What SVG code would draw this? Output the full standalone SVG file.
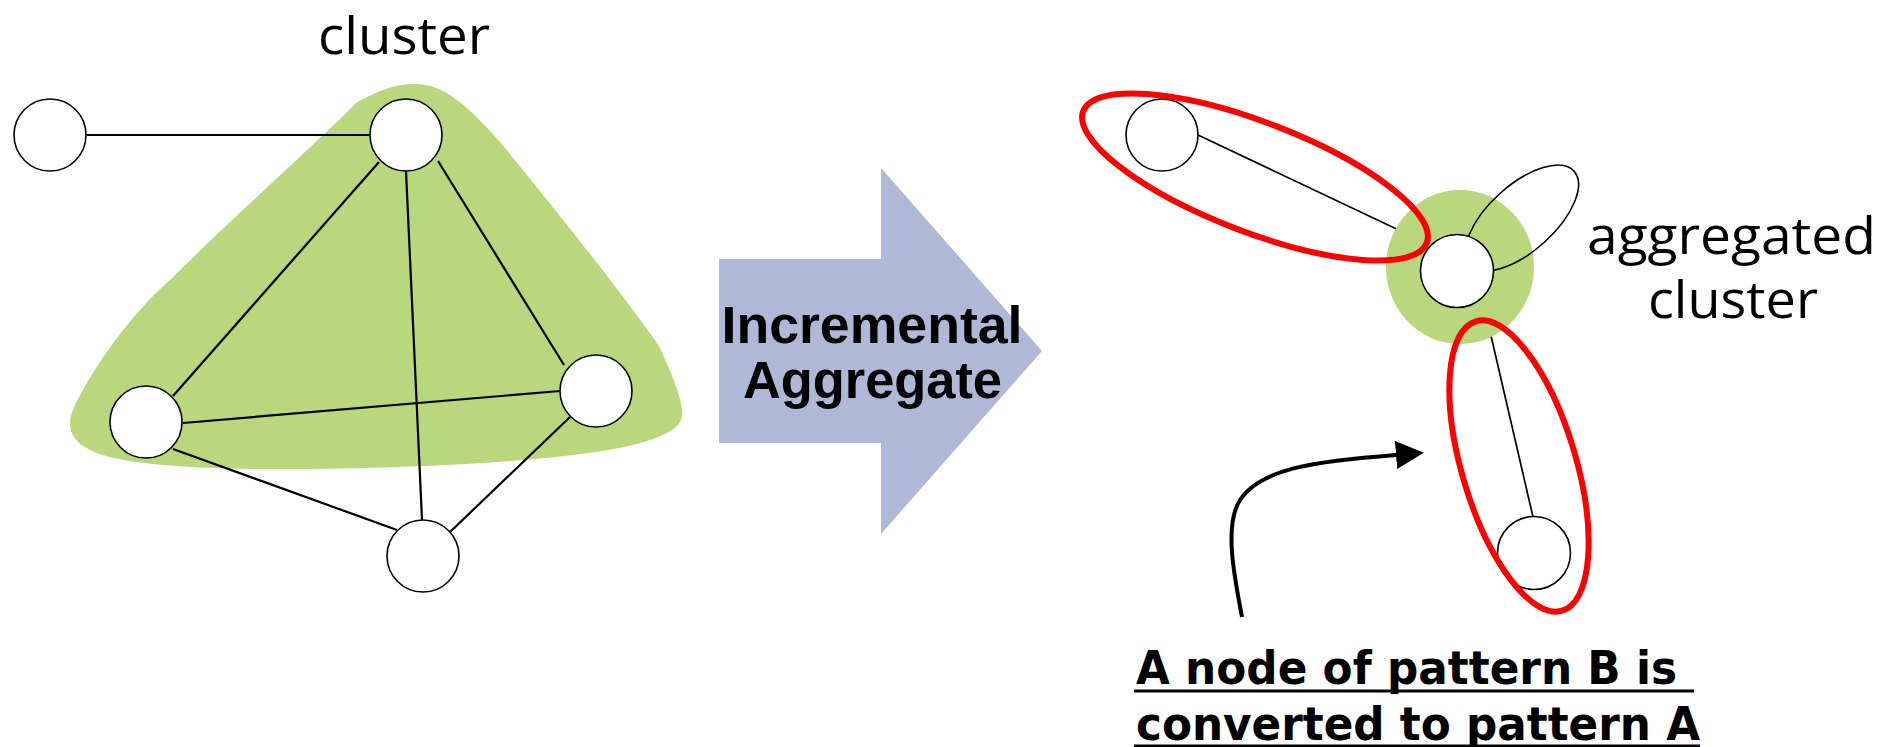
<svg xmlns="http://www.w3.org/2000/svg" width="1884" height="747" viewBox="0 0 1884 747">
<style>
.node{fill:#fff;stroke:#000;stroke-width:1.6}
.edge{stroke:#000;stroke-width:2.2;fill:none}
.thin{stroke:#000;stroke-width:1.7;fill:none}
.label{font-family:"Open Sans","Noto Sans",sans-serif;font-size:51px;fill:#000}
.arrowtxt{font-family:"Liberation Sans",Arial,sans-serif;font-weight:bold;font-size:51px;fill:#000}
.note{font-family:"DejaVu Sans","Liberation Sans",sans-serif;font-weight:bold;font-size:46px;fill:#000}
.red{fill:none;stroke:#FF0000;stroke-width:6}
.green{fill:#B9D77C}
</style>
<defs>
<marker id="head" markerUnits="userSpaceOnUse" viewBox="0 0 28 28" refX="0" refY="14" markerWidth="28" markerHeight="28" orient="auto">
<path d="M0,0 L28,14 L0,28 Z" fill="#000"/>
</marker>
</defs>

<g id="cluster-area">
<path class="green" d="M356,103 C378,90 398,83 418,84 C445,85 470,108 500,142 C540,190 620,290 659,346 C668,365 681,395 682,410 C684,425 672,432 650,440 C600,458 450,468 300,469 C200,470 120,465 90,450 C70,440 65,425 75,405 C95,365 130,315 170,280 C230,220 320,140 356,103 Z"/>
<text class="label" x="404" y="54" text-anchor="middle" textLength="172" lengthAdjust="spacingAndGlyphs">cluster</text>
</g>

<g id="connectors">
<line class="edge" x1="87" y1="135" x2="370" y2="135"/>
<line class="edge" x1="379" y1="162" x2="173" y2="396"/>
<line class="edge" x1="406" y1="171" x2="422" y2="520"/>
<line class="edge" x1="438" y1="161" x2="564" y2="365"/>
<line class="edge" x1="183" y1="423" x2="560" y2="391"/>
<line class="edge" x1="173" y1="449" x2="397" y2="530"/>
<line class="edge" x1="570" y1="417" x2="450" y2="532"/>
<line class="thin" x1="1198" y1="135" x2="1424" y2="242"/>
<line class="thin" x1="1482" y1="297" x2="1533" y2="517"/>
<path d="M1242,617 C1234,575 1224,525 1240,500 C1262,467 1320,461 1396,455" fill="none" stroke="#000" stroke-width="4" marker-end="url(#head)"/>
</g>

<g id="n-left"><circle class="node" cx="50" cy="135" r="36"/></g>
<g id="n-top"><circle class="node" cx="406" cy="135" r="36"/></g>
<g id="n-midleft"><circle class="node" cx="146" cy="422" r="36"/></g>
<g id="n-right"><circle class="node" cx="596" cy="391" r="36"/></g>
<g id="n-bottom"><circle class="node" cx="423" cy="556" r="36"/></g>

<g id="incremental-arrow">
<polygon points="719,259 881,259 881,168 1042,351 881,534 881,443 719,443" fill="#AFB9D7"/>
<text class="arrowtxt" x="872" y="343" text-anchor="middle" textLength="301" lengthAdjust="spacingAndGlyphs">Incremental</text>
<text class="arrowtxt" x="872.5" y="398" text-anchor="middle" textLength="259" lengthAdjust="spacingAndGlyphs">Aggregate</text>
</g>

<g id="aggregated-cluster">
<ellipse class="green" cx="1460" cy="267" rx="74" ry="77"/>
<ellipse fill="none" stroke="#000" stroke-width="1.6" cx="1522" cy="218" rx="70" ry="33" transform="rotate(-42 1522 218)"/>
<text class="label" x="1731.5" y="254" text-anchor="middle" textLength="289" lengthAdjust="spacingAndGlyphs">aggregated</text>
<text class="label" x="1733" y="318" text-anchor="middle" textLength="170" lengthAdjust="spacingAndGlyphs">cluster</text>
</g>

<g id="n-r-topleft"><circle class="node" cx="1162" cy="135" r="36"/></g>
<g id="n-r-center"><circle class="node" cx="1457" cy="271" r="36.5"/></g>
<g id="n-r-bottom"><circle class="node" cx="1534" cy="553" r="36.5"/></g>

<g id="pattern-a-1"><ellipse class="red" cx="1255" cy="177" rx="184" ry="55" transform="rotate(21 1255 177)"/></g>
<g id="pattern-a-2"><ellipse class="red" cx="1519" cy="466" rx="57" ry="151" transform="rotate(-16.6 1519 466)"/></g>

<g id="note">
<text class="note" x="1136" y="684" textLength="541" lengthAdjust="spacingAndGlyphs">A node of pattern B is</text>
<line x1="1134" y1="691" x2="1694" y2="691" stroke="#000" stroke-width="3"/>
<text class="note" x="1136" y="740" textLength="564" lengthAdjust="spacingAndGlyphs">converted to pattern A</text>
<line x1="1134" y1="746" x2="1700" y2="746" stroke="#000" stroke-width="3"/>
</g>
</svg>
